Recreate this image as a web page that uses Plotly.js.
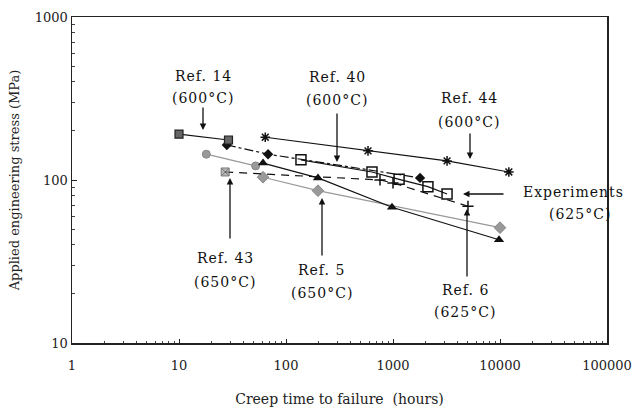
<!DOCTYPE html>
<html>
<head>
<meta charset="utf-8">
<script src="https://cdn.plot.ly/plotly-3.0.1.min.js"></script>
<style>
  html, body { margin: 0; padding: 0; background: #fff; }
  #chart { width: 640px; height: 414px; }
  .annotation-text { letter-spacing: 1px; }
</style>
</head>
<body>
<div id="chart"></div>
<script>
// ---- Data ----
// Creep time to failure (hours) / Applied engineering stress (MPa)
const ref14Time = [10, 29];
const ref14Stress = [191, 176];

const ref44Time = [64, 584, 3200, 12100];
const ref44Stress = [183, 151, 131, 112];

const ref40Time = [28, 68, 1790];
const ref40Stress = [164, 144, 103];

const expTime = [138, 636, 1140, 2120, 3200];
const expStress = [133, 112, 101, 91, 82];

const ref6Time = [756, 1000, 5020];
const ref6Stress = [100, 96, 69];

const ref43Time = [27, 756];
const ref43Stress = [112, 100];

const triTime = [61, 199, 979, 9790];
const triStress = [127, 103, 68, 43];

const circTime = [18, 52];
const circStress = [144, 122];

const ref5Time = [61, 199, 10000];
const ref5Stress = [104, 86, 51];

const xTickVals = [1, 10, 100, 1000, 10000, 100000];
const xTickText = ['1', '10', '100', '1000', '10000', '100000'];
const yTickVals = [10, 100, 1000];
const yTickText = ['10', '100', '1000'];

// ---- Chart ----
const FONT = 'DejaVu Serif, Liberation Serif, serif';
const GRAY = '#999999';
const LW = 1.2;

function minorVals(lo, hi) {
  const v = [];
  for (let d = lo; d < hi; d *= 10) for (let k = 2; k <= 9; k++) v.push(d * k);
  return v;
}

const traces = [
  { x: circTime, y: circStress, mode: 'lines+markers',
    line: { color: GRAY, width: LW },
    marker: { symbol: 'circle', size: 8, color: GRAY, line: { color: '#888', width: 1 } } },
  { x: ref5Time, y: ref5Stress, mode: 'lines+markers',
    line: { color: GRAY, width: LW },
    marker: { symbol: 'diamond', size: 9, color: GRAY, line: { color: '#888', width: 1 } } },
  { x: ref43Time, y: ref43Stress, mode: 'lines+markers',
    line: { color: '#111', width: LW, dash: '8px,6px' },
    marker: { symbol: 'square-x', size: [8, 0], color: GRAY, line: { color: '#444', width: 1 } } },
  { x: ref6Time, y: ref6Stress, mode: 'lines+markers',
    line: { color: '#111', width: LW, dash: '8px,6px' },
    marker: { symbol: 'cross-thin-open', size: 8, color: '#111', line: { color: '#111', width: 1.5 } } },
  { x: triTime, y: triStress, mode: 'lines+markers',
    line: { color: '#111', width: LW },
    marker: { symbol: 'triangle-up', size: 9, color: '#111' } },
  { x: ref40Time, y: ref40Stress, mode: 'lines+markers',
    line: { color: '#111', width: LW, dash: 'dashdot' },
    marker: { symbol: 'diamond', size: 8, color: '#111' } },
  { x: expTime, y: expStress, mode: 'lines+markers',
    line: { color: '#111', width: LW },
    marker: { symbol: 'square-open', size: 10, color: '#111', line: { color: '#111', width: 1.5 } } },
  { x: ref14Time, y: ref14Stress, mode: 'lines+markers',
    line: { color: '#111', width: LW },
    marker: { symbol: 'square', size: 8, color: '#666', line: { color: '#222', width: 1.2 } } },
  { x: ref44Time, y: ref44Stress, mode: 'lines+markers',
    line: { color: '#111', width: LW },
    marker: { symbol: 'asterisk-open', size: 8, color: '#111', line: { color: '#111', width: 1.5 } } }
];

// plot area in pixels: x 72..607, y 17..343
const L = 72, R = 607, T = 17, B = 343;
const px = (p) => (p - L) / (R - L);
const py = (p) => (B - p) / (B - T);

function label(text, x, y) {
  return { text: text, xref: 'paper', yref: 'paper', x: px(x), y: py(y),
           showarrow: false, xanchor: 'center', yanchor: 'middle',
           font: { family: FONT, size: 14, color: '#111' } };
}
function arrow(hx, hy, tx, ty) {
  return { text: '', xref: 'paper', yref: 'paper', x: px(hx), y: py(hy),
           ax: tx - hx, ay: ty - hy, showarrow: true, arrowhead: 2,
           arrowsize: 1, arrowwidth: 1.3, arrowcolor: '#111', standoff: 0, startstandoff: 0 };
}

const annotations = [
  label('Ref. 14', 203, 76), label('(600°C)', 203, 98), arrow(203, 130, 203, 106),
  label('Ref. 40', 337, 77), label('(600°C)', 337, 100), arrow(337, 162, 337, 112),
  label('Ref. 44', 469, 98), label('(600°C)', 469, 122), arrow(470, 159, 470, 132),
  label('Experiments', 573, 192), label('(625°C)', 580, 214), arrow(463, 194, 505, 194),
  label('Ref. 43', 225, 258), label('(650°C)', 225, 282), arrow(230, 178, 230, 240),
  label('Ref. 5', 321, 270), label('(650°C)', 322, 293), arrow(322, 198, 322, 257),
  label('Ref. 6', 465, 290), label('(625°C)', 465, 312), arrow(467, 209, 467, 278)
];

const layout = {
  width: 640, height: 414,
  margin: { l: L, r: 640 - R, t: T, b: 414 - B },
  paper_bgcolor: '#fff', plot_bgcolor: '#fff',
  showlegend: false,
  font: { family: FONT, size: 13, color: '#222' },
  xaxis: {
    type: 'log', range: [0, 5],
    tickmode: 'array', tickvals: xTickVals, ticktext: xTickText,
    ticks: 'inside', ticklen: 4, tickcolor: '#222',
    ticklabelstandoff: 10,
    showline: true, linecolor: '#222', linewidth: 1.5, mirror: true,
    showgrid: false, zeroline: false,
    minor: { tickmode: 'array', tickvals: minorVals(1, 100000), ticks: 'inside', ticklen: 2, tickcolor: '#444', showgrid: false },
    tickfont: { family: FONT, size: 13, color: '#222' },
    title: { text: 'Creep time to failure  (hours)', standoff: 22,
             font: { family: FONT, size: 14, color: '#222' } }
  },
  yaxis: {
    type: 'log', range: [1, 3],
    tickmode: 'array', tickvals: yTickVals, ticktext: yTickText,
    ticks: 'inside', ticklen: 5, tickcolor: '#222',
    showline: true, linecolor: '#222', linewidth: 1.5, mirror: true,
    showgrid: false, zeroline: false,
    minor: { tickmode: 'array', tickvals: minorVals(10, 1000), ticks: 'inside', ticklen: 3, tickcolor: '#444', showgrid: false },
    tickfont: { family: FONT, size: 13, color: '#222' },
    title: { text: 'Applied engineering stress (MPa)', standoff: 12,
             font: { family: FONT, size: 13, color: '#222' } }
  },
  annotations: annotations
};

Plotly.newPlot('chart', traces, layout, { displayModeBar: false, staticPlot: true });
</script>
</body>
</html>
